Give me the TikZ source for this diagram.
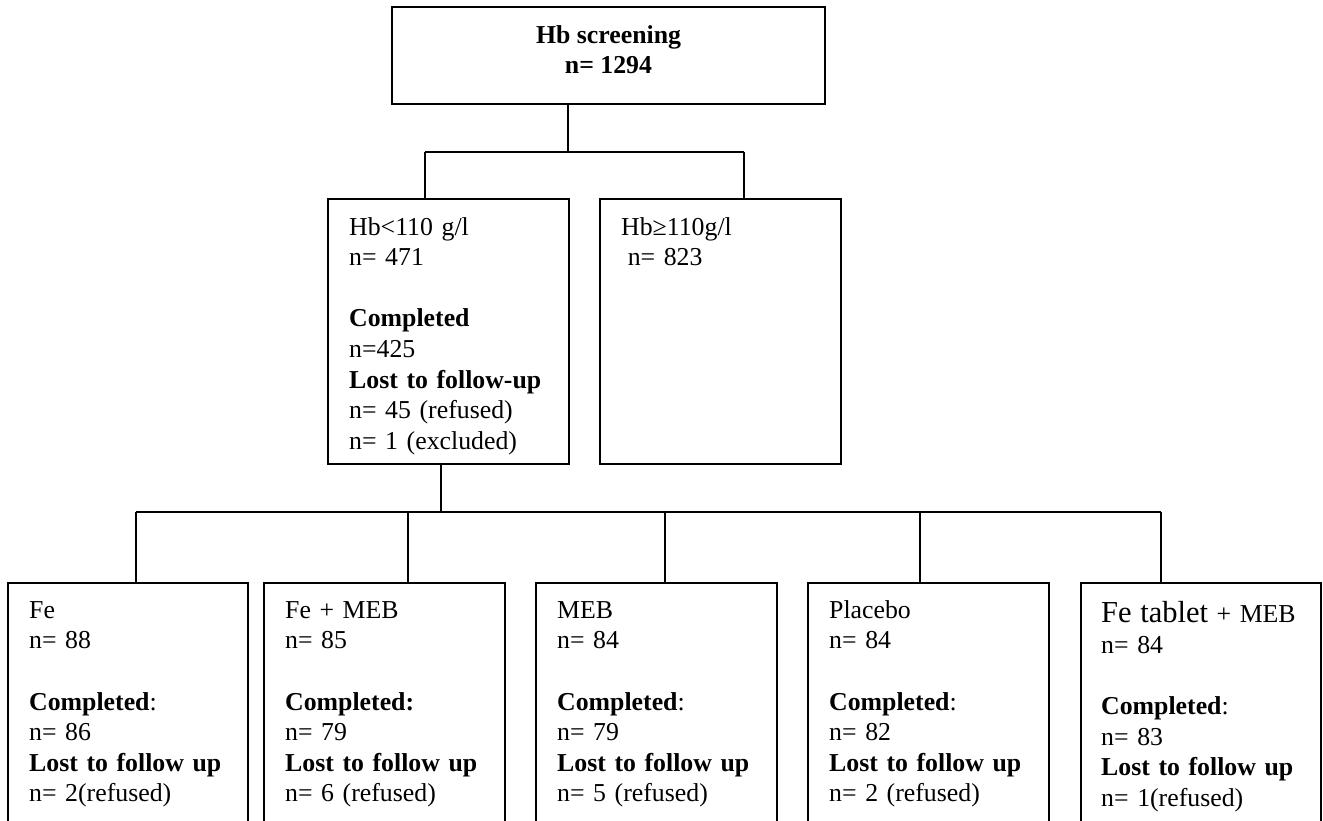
\documentclass[tikz,border=0pt]{standalone}
\usepackage{fontspec}
\setmainfont{Liberation Serif}
\begin{document}
\begin{tikzpicture}[x=1pt,y=-1pt,
  box/.style={draw, line width=1.8pt, rectangle, inner sep=0pt},
  conn/.style={draw, line width=1.8pt},
  lbl/.style={anchor=north west, inner sep=0pt, text width=218pt, align=left,
              font=\fontsize{25.8}{30.6}\selectfont},
  toplbl/.style={anchor=north, inner sep=0pt, align=center,
              font=\fontsize{25.8}{30.6}\selectfont\bfseries}]
\useasboundingbox (0,0) rectangle (1323,821);
\begin{scope}
\clip (0,0) rectangle (1323,821);
% boxes
\node[box, minimum width=433pt, minimum height=97pt] (top) at (608.5,55.5) {};
\node[box, minimum width=241pt, minimum height=265pt] (hbl) at (448.5,331.5) {};
\node[box, minimum width=241pt, minimum height=265pt] (hbh) at (720.5,331.5) {};
\node[box, minimum width=240pt, minimum height=257pt] (fe) at (128,711.5) {};
\node[box, minimum width=241pt, minimum height=257pt] (femeb) at (384.5,711.5) {};
\node[box, minimum width=241pt, minimum height=257pt] (meb) at (656.5,711.5) {};
\node[box, minimum width=241pt, minimum height=257pt] (pla) at (928.5,711.5) {};
\node[box, minimum width=240pt, minimum height=257pt] (fet) at (1201,711.5) {};
% texts
\node[toplbl] (ttop) at (608.5,19) {\rule{0pt}{24pt}Hb screening\\ n= 1294};
\node[lbl] (thbl) at (349,211) {\rule{0pt}{24pt}Hb<110 g/l\\ n= 471\\[30.6pt] \textbf{Completed}\\ n=425\\ \textbf{Lost to follow-up}\\ n= 45 (refused)\\ n= 1 (excluded)};
\node[lbl] (thbh) at (621,211) {\rule{0pt}{24pt}Hb≥110g/l\\ \hspace*{6.6pt}n= 823};
\node[lbl] (tfe) at (29,594) {\rule{0pt}{24pt}Fe\\ n= 88\\[30.6pt] \textbf{Completed}:\\ n= 86\\ \textbf{Lost to follow up}\\ n= 2(refused)};
\node[lbl] (tfemeb) at (285,594) {\rule{0pt}{24pt}Fe + MEB\\ n= 85\\[30.6pt] \textbf{Completed:}\\ n= 79\\ \textbf{Lost to follow up}\\ n= 6 (refused)};
\node[lbl] (tmeb) at (557,594) {\rule{0pt}{24pt}MEB\\ n= 84\\[30.6pt] \textbf{Completed}:\\ n= 79\\ \textbf{Lost to follow up}\\ n= 5 (refused)};
\node[lbl] (tpla) at (829,594) {\rule{0pt}{24pt}Placebo\\ n= 84\\[30.6pt] \textbf{Completed}:\\ n= 82\\ \textbf{Lost to follow up}\\ n= 2 (refused)};
\node[lbl] (tfet) at (1101,598.5) {\rule{0pt}{24pt}{\fontsize{30.5}{30.6}\selectfont Fe tablet} + MEB\\ n= 84\\[30.6pt] \textbf{Completed}:\\ n= 83\\ \textbf{Lost to follow up}\\ n= 1(refused)};
% junctions
\coordinate (j0) at (568,152);
\coordinate (jl) at (425,152);
\coordinate (jr) at (744,152);
\coordinate (j1) at (441,512);
\coordinate (jb1) at (136,512);
\coordinate (jb2) at (408,512);
\coordinate (jb3) at (665,512);
\coordinate (jb4) at (920,512);
\coordinate (jb5) at (1161,512);
% connectors
\draw[conn] (top.south -| j0) -- (j0);
\draw[conn] (jl) -- (jr);
\draw[conn] (jl) -- (jl |- hbl.north);
\draw[conn] (jr) -- (jr |- hbh.north);
\draw[conn] (hbl.south -| j1) -- (j1);
\draw[conn] (jb1) -- (jb5);
\draw[conn] (jb1) -- (jb1 |- fe.north);
\draw[conn] (jb2) -- (jb2 |- femeb.north);
\draw[conn] (jb3) -- (jb3 |- meb.north);
\draw[conn] (jb4) -- (jb4 |- pla.north);
\draw[conn] (jb5) -- (jb5 |- fet.north);
\end{scope}
\end{tikzpicture}
\end{document}
